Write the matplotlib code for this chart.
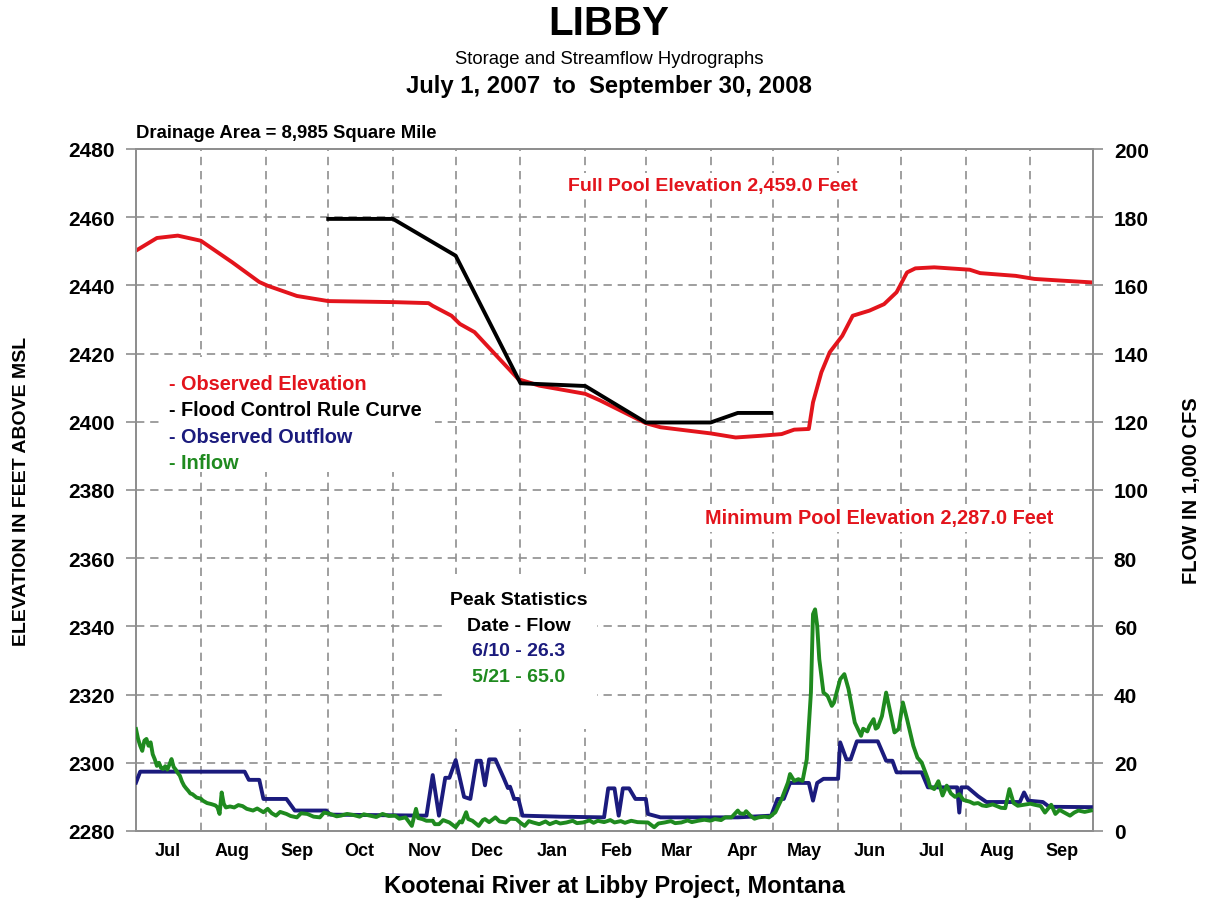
import matplotlib
matplotlib.use("Agg")
import matplotlib.pyplot as plt
import matplotlib.dates as mdates
import matplotlib.ticker as mticker
from matplotlib.patches import Rectangle
import pandas as pd

# ---------------------------------------------------------------- data
# Observed pool elevation (feet above MSL)
elev_dates = ["2007-07-01", "2007-07-11", "2007-07-21", "2007-08-01", "2007-08-16",
              "2007-08-29", "2007-09-02", "2007-09-16", "2007-10-01", "2007-11-01",
              "2007-11-18", "2007-11-20", "2007-11-29", "2007-12-03", "2007-12-10",
              "2007-12-22", "2007-12-31", "2008-01-10", "2008-02-01", "2008-02-08",
              "2008-03-01", "2008-03-08", "2008-04-01", "2008-04-13", "2008-04-25",
              "2008-05-05", "2008-05-11", "2008-05-18", "2008-05-20", "2008-05-24",
              "2008-05-28", "2008-06-03", "2008-06-08", "2008-06-16", "2008-06-23",
              "2008-06-29", "2008-07-04", "2008-07-08", "2008-07-17", "2008-08-03",
              "2008-08-08", "2008-08-25", "2008-09-03", "2008-09-16", "2008-09-30"]
elev_ft = [2450.2, 2453.9, 2454.6, 2453.1, 2446.8,
           2441.0, 2439.9, 2436.9, 2435.4, 2435.1,
           2434.8, 2434.0, 2431.1, 2428.7, 2426.3,
           2418.4, 2412.5, 2410.6, 2408.2, 2406.3,
           2399.6, 2398.4, 2396.6, 2395.4, 2395.9,
           2396.4, 2397.7, 2397.9, 2405.7, 2414.5,
           2420.4, 2425.2, 2431.1, 2432.6, 2434.5,
           2438.0, 2443.8, 2445.0, 2445.3, 2444.6,
           2443.6, 2442.8, 2441.9, 2441.4, 2440.9]

# Flood control rule curve (feet above MSL)
rule_dates = ["2007-10-01", "2007-11-01", "2007-12-01", "2008-01-01", "2008-02-01",
              "2008-03-01", "2008-04-01", "2008-04-14", "2008-04-30"]
rule_ft = [2459.5, 2459.5, 2448.7, 2411.3, 2410.5,
           2399.8, 2399.8, 2402.6, 2402.6]

# Observed outflow (1,000 cfs)
outflow_dates = ["2007-07-01", "2007-07-03", "2007-08-22", "2007-08-24", "2007-08-29",
                 "2007-08-31", "2007-09-11", "2007-09-15", "2007-09-30", "2007-10-02",
                 "2007-11-17", "2007-11-20", "2007-11-23", "2007-11-26", "2007-11-28",
                 "2007-12-01", "2007-12-05", "2007-12-08", "2007-12-11", "2007-12-13",
                 "2007-12-15", "2007-12-17", "2007-12-20", "2007-12-24", "2007-12-26",
                 "2007-12-27", "2007-12-29", "2007-12-31", "2008-01-02", "2008-01-20",
                 "2008-02-10", "2008-02-12", "2008-02-15", "2008-02-17", "2008-02-19",
                 "2008-02-22", "2008-02-25", "2008-03-01", "2008-03-02", "2008-03-08",
                 "2008-04-14", "2008-04-30", "2008-05-03", "2008-05-06", "2008-05-09",
                 "2008-05-18", "2008-05-20", "2008-05-22", "2008-05-25", "2008-06-01",
                 "2008-06-02", "2008-06-05", "2008-06-07", "2008-06-10", "2008-06-20",
                 "2008-06-24", "2008-06-27", "2008-06-29", "2008-07-11", "2008-07-14",
                 "2008-07-28", "2008-07-29", "2008-07-30", "2008-08-02", "2008-08-07",
                 "2008-08-11", "2008-08-27", "2008-08-29", "2008-08-31", "2008-09-07",
                 "2008-09-10", "2008-09-30"]
outflow_kcfs = [14.2, 17.4, 17.4, 15.0, 15.0,
                9.4, 9.4, 6.0, 6.0, 4.8,
                4.5, 16.4, 4.5, 15.6, 15.6,
                20.8, 10.0, 9.4, 20.6, 20.6,
                13.4, 21.0, 21.0, 15.5, 12.6,
                13.0, 9.4, 9.4, 4.5, 4.2,
                4.0, 12.5, 12.5, 4.5, 12.5,
                12.5, 9.4, 9.4, 5.0, 4.0,
                4.0, 4.5, 9.4, 9.4, 14.1,
                14.1, 8.9, 14.1, 15.3, 15.3,
                26.0, 21.0, 21.0, 26.3, 26.3,
                20.6, 20.6, 17.2, 17.2, 12.8,
                12.8, 5.4, 12.8, 12.8, 10.2,
                8.5, 8.5, 11.3, 8.9, 8.5,
                7.1, 7.0]

# Inflow (1,000 cfs)
inflow_dates = [
    "2007-07-01", "2007-07-02", "2007-07-03", "2007-07-04", "2007-07-05", "2007-07-06",
    "2007-07-07", "2007-07-08", "2007-07-09", "2007-07-10", "2007-07-11", "2007-07-12",
    "2007-07-13", "2007-07-14", "2007-07-15", "2007-07-16", "2007-07-17", "2007-07-18",
    "2007-07-19", "2007-07-20", "2007-07-21", "2007-07-22", "2007-07-23", "2007-07-24",
    "2007-07-25", "2007-07-26", "2007-07-27", "2007-07-28", "2007-07-30", "2007-08-01",
    "2007-08-02", "2007-08-04", "2007-08-06", "2007-08-08", "2007-08-09", "2007-08-10",
    "2007-08-11", "2007-08-12", "2007-08-13", "2007-08-15", "2007-08-17", "2007-08-19",
    "2007-08-21", "2007-08-23", "2007-08-26", "2007-08-28", "2007-08-31", "2007-09-02",
    "2007-09-04", "2007-09-06", "2007-09-08", "2007-09-11", "2007-09-13", "2007-09-16",
    "2007-09-18", "2007-09-21", "2007-09-24", "2007-09-27", "2007-09-29", "2007-10-02",
    "2007-10-05", "2007-10-07", "2007-10-10", "2007-10-13", "2007-10-16", "2007-10-18",
    "2007-10-21", "2007-10-24", "2007-10-27", "2007-10-30", "2007-11-02", "2007-11-04",
    "2007-11-07", "2007-11-10", "2007-11-12", "2007-11-13", "2007-11-15", "2007-11-17",
    "2007-11-20", "2007-11-21", "2007-11-23", "2007-11-25", "2007-11-28", "2007-12-01",
    "2007-12-03", "2007-12-04", "2007-12-06", "2007-12-07", "2007-12-09", "2007-12-12",
    "2007-12-14", "2007-12-15", "2007-12-17", "2007-12-20", "2007-12-22", "2007-12-25",
    "2007-12-27", "2007-12-30", "2008-01-01", "2008-01-03", "2008-01-05", "2008-01-07",
    "2008-01-10", "2008-01-13", "2008-01-15", "2008-01-18", "2008-01-20", "2008-01-23",
    "2008-01-26", "2008-01-28", "2008-01-31", "2008-02-03", "2008-02-05", "2008-02-07",
    "2008-02-10", "2008-02-13", "2008-02-15", "2008-02-18", "2008-02-20", "2008-02-23",
    "2008-02-26", "2008-03-02", "2008-03-05", "2008-03-07", "2008-03-10", "2008-03-13",
    "2008-03-15", "2008-03-18", "2008-03-21", "2008-03-23", "2008-03-26", "2008-03-29",
    "2008-04-01", "2008-04-03", "2008-04-06", "2008-04-08", "2008-04-11", "2008-04-14",
    "2008-04-15", "2008-04-17", "2008-04-18", "2008-04-20", "2008-04-22", "2008-04-24",
    "2008-04-27", "2008-04-29", "2008-05-02", "2008-05-05", "2008-05-08", "2008-05-09",
    "2008-05-11", "2008-05-13", "2008-05-15", "2008-05-17", "2008-05-19", "2008-05-20",
    "2008-05-21", "2008-05-22", "2008-05-23", "2008-05-25", "2008-05-27", "2008-05-29",
    "2008-05-30", "2008-06-02", "2008-06-04", "2008-06-06", "2008-06-09", "2008-06-12",
    "2008-06-13", "2008-06-15", "2008-06-16", "2008-06-18", "2008-06-19", "2008-06-20",
    "2008-06-22", "2008-06-24", "2008-06-26", "2008-06-28", "2008-06-30", "2008-07-02",
    "2008-07-04", "2008-07-07", "2008-07-09", "2008-07-11", "2008-07-14", "2008-07-15",
    "2008-07-17", "2008-07-19", "2008-07-21", "2008-07-23", "2008-07-25", "2008-07-27",
    "2008-07-29", "2008-07-31", "2008-08-03", "2008-08-05", "2008-08-07", "2008-08-09",
    "2008-08-11", "2008-08-14", "2008-08-16", "2008-08-18", "2008-08-20", "2008-08-22",
    "2008-08-24", "2008-08-26", "2008-08-29", "2008-09-01", "2008-09-03", "2008-09-06",
    "2008-09-08", "2008-09-11", "2008-09-13", "2008-09-15", "2008-09-17", "2008-09-20",
    "2008-09-22", "2008-09-24", "2008-09-27", "2008-09-30"]
inflow_kcfs = [
    29.9, 27.0, 25.0, 23.5, 26.5, 27.0,
    25.0, 26.0, 22.5, 21.0, 19.1, 20.0,
    18.5, 18.2, 19.0, 18.0, 19.5, 21.1,
    18.8, 18.0, 17.0, 16.2, 14.5, 13.3,
    12.5, 11.8, 11.0, 10.8, 9.8, 9.5,
    8.9, 8.2, 7.9, 7.5, 6.9, 5.0,
    11.3, 8.0, 6.9, 7.2, 6.9, 7.6,
    7.3, 6.5, 6.0, 6.6, 5.5, 6.5,
    5.2, 4.5, 5.6, 5.0, 4.4, 4.0,
    5.2, 5.0, 4.2, 4.0, 5.4, 5.0,
    4.3, 4.5, 5.0, 4.7, 4.2, 4.9,
    4.5, 4.1, 5.0, 4.4, 4.5, 3.6,
    4.0, 1.5, 6.5, 3.8, 3.5, 3.0,
    3.0, 2.0, 2.0, 3.2, 2.5, 1.1,
    2.8, 2.5, 5.5, 3.5, 3.0, 1.5,
    3.2, 3.5, 2.6, 4.0, 2.8, 2.5,
    3.6, 3.5, 2.4, 1.5, 2.9, 2.5,
    2.0, 2.8, 2.0, 2.7, 2.2, 2.5,
    3.0, 2.3, 2.5, 3.1, 2.4, 3.0,
    2.6, 3.2, 2.5, 2.9, 2.4, 3.0,
    2.6, 2.5, 1.1, 2.2, 2.5, 2.9,
    2.3, 2.5, 3.1, 2.6, 3.0, 3.3,
    3.0, 3.5, 3.2, 4.0, 4.0, 6.0,
    5.2, 5.0, 5.8, 4.5, 3.6, 4.0,
    4.2, 4.0, 5.5, 9.4, 14.2, 16.7,
    14.7, 15.2, 14.7, 21.0, 40.6, 63.6,
    65.0, 60.2, 50.4, 40.6, 39.6, 36.7,
    37.6, 44.5, 46.0, 41.6, 31.8, 27.9,
    30.0, 29.2, 30.8, 32.8, 30.0, 30.4,
    33.7, 40.6, 34.7, 28.9, 29.9, 37.7,
    32.8, 25.0, 21.5, 20.1, 15.2, 13.0,
    12.3, 14.6, 10.4, 13.3, 11.0, 10.0,
    10.8, 9.1, 8.6, 8.0, 8.2, 7.5,
    7.3, 7.8, 7.3, 6.8, 6.7, 12.3,
    8.2, 7.4, 7.7, 8.0, 7.7, 7.3,
    5.4, 7.7, 5.0, 6.2, 5.5, 4.5,
    5.4, 6.0, 5.6, 6.0]

elev_ticks = list(range(2280, 2481, 20))
flow_ticks = list(range(0, 201, 20))
period = ("2007-07-01", "2008-10-01")

RED, BLACK, NAVY, GREEN = "#e3141c", "#000000", "#1b1b7d", "#1f8a1f"
GRID = "#8f8f8f"

legend_items = [("- Observed Elevation", RED),
                ("- Flood Control Rule Curve", BLACK),
                ("- Observed Outflow", NAVY),
                ("- Inflow", GREEN)]
peak_lines = [("Peak Statistics", BLACK),
              ("Date - Flow", BLACK),
              ("6/10 - 26.3", NAVY),
              ("5/21 - 65.0", GREEN)]

# ---------------------------------------------------------------- figure
plt.rcParams["font.family"] = ["Liberation Sans", "DejaVu Sans"]

W, H = 1207, 903
fig = plt.figure(figsize=(W / 100, H / 100), dpi=100)
ax = fig.add_axes([136 / W, 1 - 832 / H, (1093 - 136) / W, (832 - 150) / H])
ax2 = ax.twinx()

to_dt = pd.to_datetime
ax.plot(to_dt(elev_dates), elev_ft, color=RED, lw=2.8, zorder=3, solid_joinstyle="round")
ax.plot(to_dt(rule_dates), rule_ft, color=BLACK, lw=2.8, zorder=4, solid_joinstyle="round")
ax2.plot(to_dt(outflow_dates), outflow_kcfs, color=NAVY, lw=2.8, zorder=3, solid_joinstyle="round")
ax2.plot(to_dt(inflow_dates), inflow_kcfs, color=GREEN, lw=2.8, zorder=4, solid_joinstyle="round")

ax.set_xlim(to_dt(period[0]), to_dt(period[1]))
ax.set_ylim(elev_ticks[0], elev_ticks[-1])
ax2.set_ylim(flow_ticks[0], flow_ticks[-1])
ax.set_yticks(elev_ticks)
ax2.set_yticks(flow_ticks)

# month boundaries carry the grid, month centres carry the labels
ax.xaxis.set_major_locator(mdates.MonthLocator())
ax.xaxis.set_major_formatter(mticker.NullFormatter())
ax.xaxis.set_minor_locator(mdates.MonthLocator(bymonthday=16))
ax.xaxis.set_minor_formatter(mdates.DateFormatter("%b"))
ax.tick_params(axis="x", which="both", length=0, pad=8, labelsize=13)
for lab in ax.get_xticklabels(minor=True):
    lab.set_fontweight("bold")

for a in (ax, ax2):
    a.tick_params(axis="y", length=7, width=1.2, color=GRID, pad=8, labelsize=15)
    for lab in a.get_yticklabels():
        lab.set_fontweight("bold")
    for s in a.spines.values():
        s.set_color(GRID)
        s.set_linewidth(1.3)

ax.grid(True, axis="both", which="major", color=GRID, linestyle=(0, (5, 3.5)), linewidth=1.2)
ax.set_axisbelow(True)

ax.set_ylabel("ELEVATION IN FEET ABOVE MSL", fontsize=14, fontweight="bold")
ax.yaxis.set_label_coords(-0.111, 0.5)
ax2.set_ylabel("FLOW IN 1,000 CFS", fontsize=14.5, fontweight="bold")
ax2.yaxis.set_label_coords(1.093, 0.5)
fig.text(614 / W, 1 - 887 / H, "Kootenai River at Libby Project, Montana",
         ha="center", va="center", fontsize=17, fontweight="bold")

# titles
fig.text(609 / W, 1 - 24 / H, "LIBBY", ha="center", va="center",
         fontsize=29, fontweight="bold")
fig.text(609 / W, 1 - 59 / H, "Storage and Streamflow Hydrographs", ha="center",
         va="center", fontsize=13.3)
fig.text(609 / W, 1 - 87 / H, "July 1, 2007  to  September 30, 2008", ha="center",
         va="center", fontsize=17.2, fontweight="bold")
ax2.text(0.0, 1.012, "Drainage Area = 8,985 Square Mile", transform=ax2.transAxes,
         ha="left", va="bottom", fontsize=13.3, fontweight="bold")

# white panels behind the annotation blocks
ax2.add_patch(Rectangle((0.028, 0.526), 0.284, 0.169, transform=ax2.transAxes,
                        facecolor="white", edgecolor="none", zorder=1.5))
ax2.add_patch(Rectangle((0.320, 0.150), 0.162, 0.227, transform=ax2.transAxes,
                        facecolor="white", edgecolor="none", zorder=1.5))

for i, (txt, col) in enumerate(legend_items):
    ax2.text(0.035, 0.656 - i * 0.0385, txt, transform=ax2.transAxes, color=col,
             ha="left", va="center", fontsize=14.3, fontweight="bold", zorder=5)

for i, (txt, col) in enumerate(peak_lines):
    ax2.text(0.4, 0.339 - i * 0.0375, txt, transform=ax2.transAxes, color=col,
             ha="center", va="center", fontsize=14, fontweight="bold", zorder=5)

box = dict(facecolor="white", edgecolor="none", pad=3)
ax2.text(0.603, 0.947, "Full Pool Elevation 2,459.0 Feet", transform=ax2.transAxes,
         color=RED, ha="center", va="center", fontsize=14, fontweight="bold", bbox=box, zorder=5)
ax2.text(0.777, 0.459, "Minimum Pool Elevation 2,287.0 Feet", transform=ax2.transAxes,
         color=RED, ha="center", va="center", fontsize=14.3, fontweight="bold", bbox=box, zorder=5)

fig.savefig("out.png", dpi=100)
